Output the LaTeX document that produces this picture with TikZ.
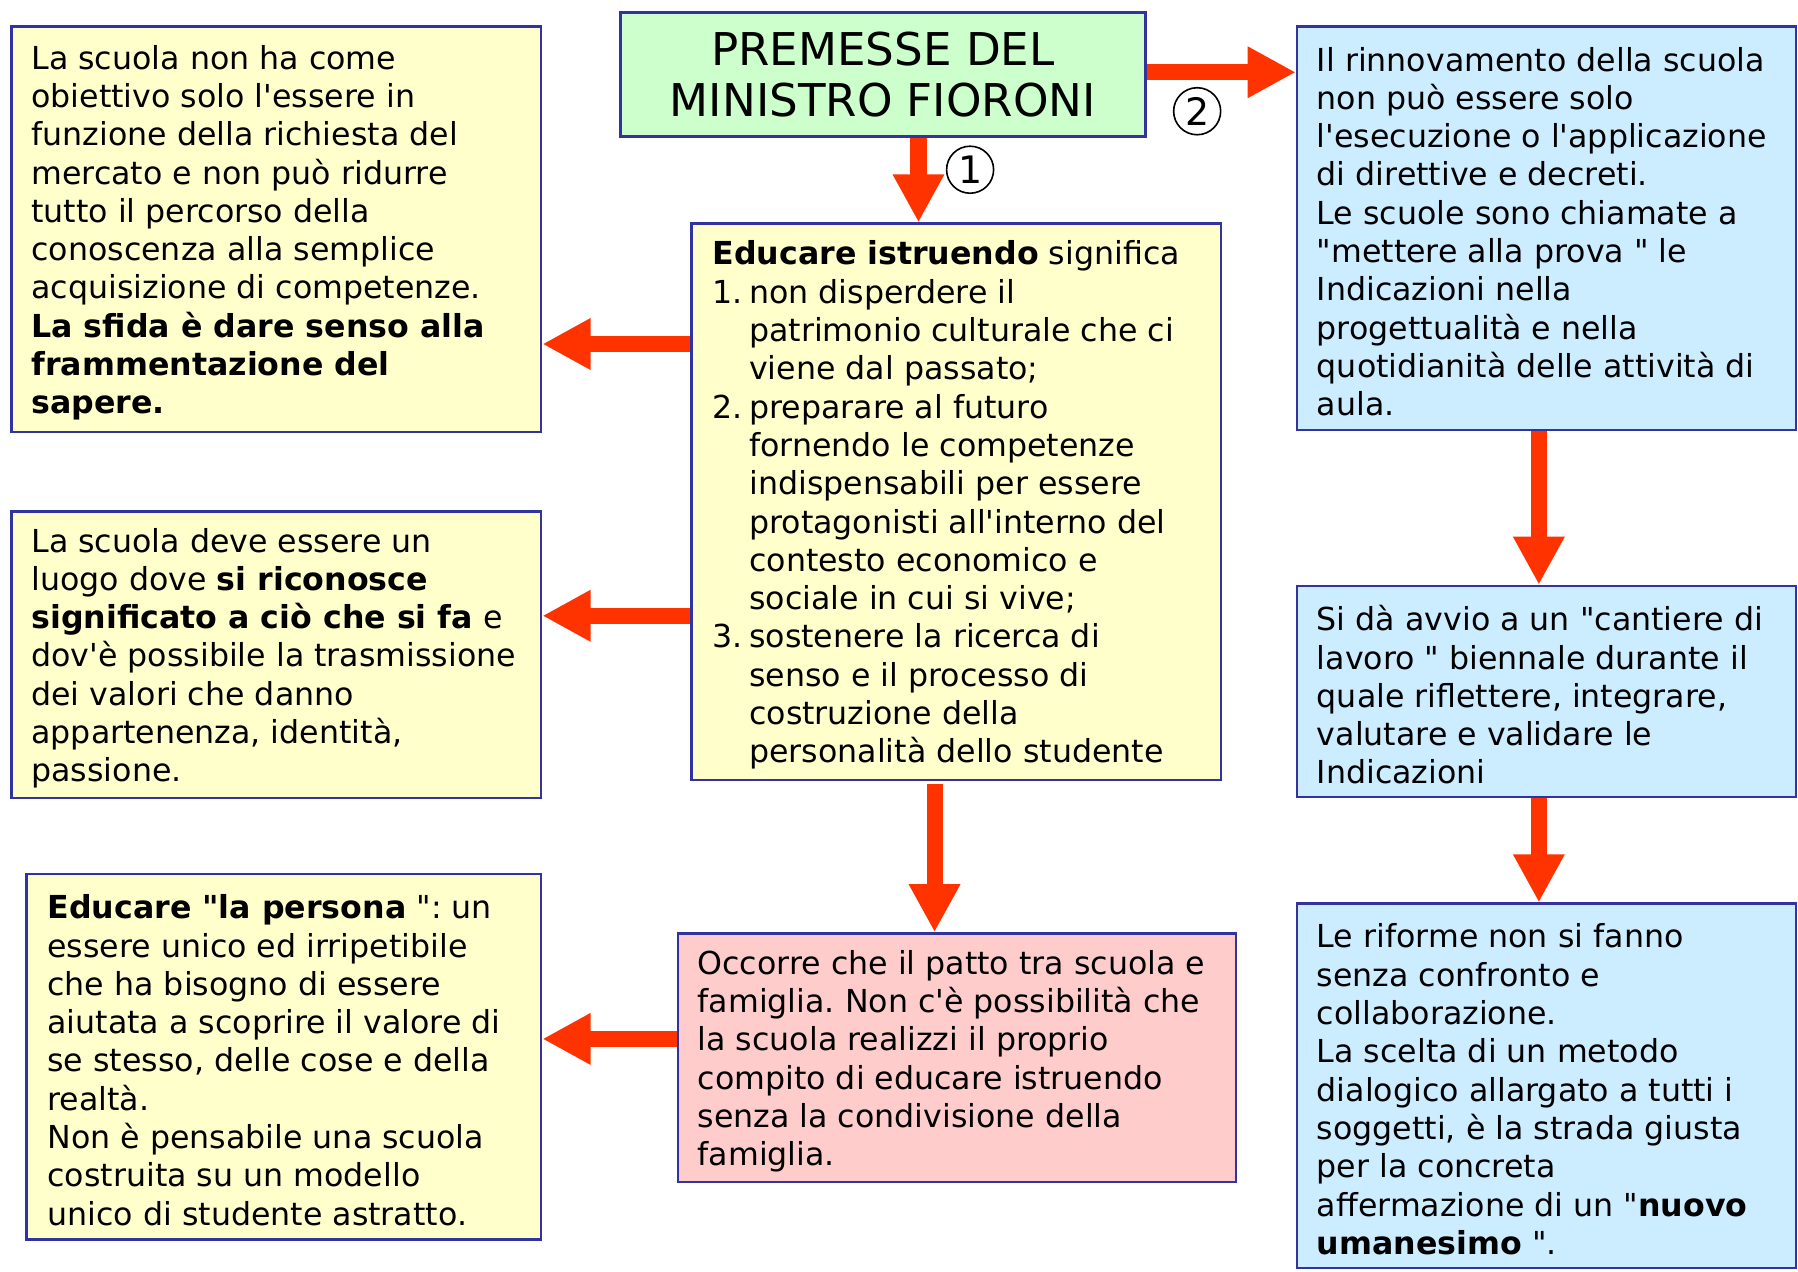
\documentclass[tikz,border=0pt]{standalone}
\usepackage{fontspec}
\setmainfont{DejaVu Sans}[Ligatures=TeXOff]
\usetikzlibrary{arrows.meta}
\definecolor{arrred}{HTML}{FF3300}
\definecolor{bordblue}{HTML}{3333A0}
\definecolor{fyellow}{HTML}{FFFFCC}
\definecolor{fgreen}{HTML}{CCFFCC}
\definecolor{fblue}{HTML}{CCECFF}
\definecolor{fpink}{HTML}{FFCCCC}
\tikzset{
  boxshape/.style={draw=bordblue, line width=1pt, anchor=north west, inner sep=0pt},
  txt/.style={anchor=west, align=left, inner sep=0pt, font=\fontsize{13.8}{16.7}\selectfont\frenchspacing},
  bigarrow/.style={draw=arrred, line width=7pt, -{Triangle[width=21pt,length=21pt]}, arrred},
  numcirc/.style={circle, draw=black, line width=0.7pt, minimum size=20.5pt, inner sep=0pt, font=\fontsize{16.5}{16.5}\selectfont}
}
\newcommand{\ind}{\hspace*{16pt}}
\newcommand{\num}[1]{\makebox[16pt][l]{#1}}
\begin{document}
\begin{tikzpicture}[x=0.5pt,y=-0.5pt]
\useasboundingbox (0,0) rectangle (1568,1109);

% boxes
\node[boxshape, fill=fyellow, minimum width=231pt, minimum height=177pt] (b1) at (9,22) {};
\node[boxshape, fill=fgreen, minimum width=229pt, minimum height=54pt, align=center, anchor=north west,
      font=\fontsize{19.7}{22.5}\selectfont] (title) at (540,10) {PREMESSE DEL\\MINISTRO FIORONI};
\node[boxshape, fill=fyellow, minimum width=231pt, minimum height=242.5pt] (cen) at (602,194) {};
\node[boxshape, fill=fblue, minimum width=217.5pt, minimum height=176pt] (b4) at (1130,22) {};
\node[boxshape, fill=fyellow, minimum width=231pt, minimum height=125pt] (b5) at (9,445) {};
\node[boxshape, fill=fblue, minimum width=217.5pt, minimum height=92pt] (b6) at (1130,510) {};
\node[boxshape, fill=fyellow, minimum width=224.5pt, minimum height=159.5pt] (b7) at (22,761) {};
\node[boxshape, fill=fpink, minimum width=243.5pt, minimum height=108.5pt] (pk) at (590,813) {};
\node[boxshape, fill=fblue, minimum width=217.5pt, minimum height=159pt] (b9) at (1130,787) {};

% texts
\node[txt] (t1) at ([xshift=9pt,yshift=-1.5pt]b1.west) {La scuola non ha come\\
obiettivo solo l'essere in\\
funzione della richiesta del\\
mercato e non può ridurre\\
tutto il percorso della\\
conoscenza alla semplice\\
acquisizione di competenze.\\
\textbf{La sfida è dare senso alla}\\
\textbf{frammentazione del}\\
\textbf{sapere.}};

\node[txt] (tc) at ([xshift=9.5pt,yshift=-1.5pt]cen.west) {\textbf{Educare istruendo} significa\\
\num{1.}non disperdere il\\
\ind patrimonio culturale che ci\\
\ind viene dal passato;\\
\num{2.}preparare al futuro\\
\ind fornendo le competenze\\
\ind indispensabili per essere\\
\ind protagonisti all'interno del\\
\ind contesto economico e\\
\ind sociale in cui si vive;\\
\num{3.}sostenere la ricerca di\\
\ind senso e il processo di\\
\ind costruzione della\\
\ind personalità dello studente};

\node[txt] (t4) at ([xshift=9pt,yshift=-1.5pt]b4.west) {Il rinnovamento della scuola\\
non può essere solo\\
l'esecuzione o l'applicazione\\
di direttive e decreti.\\
Le scuole sono chiamate a\\
"mettere alla prova " le\\
Indicazioni nella\\
progettualità e nella\\
quotidianità delle attività di\\
aula.};

\node[txt] (t5) at ([xshift=9pt,yshift=-1.5pt]b5.west) {La scuola deve essere un\\
luogo dove \textbf{si riconosce}\\
\textbf{significato a ciò che si fa} e\\
dov'è possibile la trasmissione\\
dei valori che danno\\
appartenenza, identità,\\
passione.};

\node[txt] (t6) at ([xshift=9pt,yshift=-1.5pt]b6.west) {Si dà avvio a un "cantiere di\\
lavoro " biennale durante il\\
quale riflettere, integrare,\\
valutare e validare le\\
Indicazioni};

\node[txt] (t7) at ([xshift=9.5pt,yshift=-1.5pt]b7.west) {\textbf{Educare "la persona} ": un\\
essere unico ed irripetibile\\
che ha bisogno di essere\\
aiutata a scoprire il valore di\\
se stesso, delle cose e della\\
realtà.\\
Non è pensabile una scuola\\
costruita su un modello\\
unico di studente astratto.};

\node[txt] (tp) at ([xshift=9pt,yshift=-1.5pt]pk.west) {Occorre che il patto tra scuola e\\
famiglia. Non c'è possibilità che\\
la scuola realizzi il proprio\\
compito di educare istruendo\\
senza la condivisione della\\
famiglia.};

\node[txt] (t9) at ([xshift=9pt,yshift=-1.5pt]b9.west) {Le riforme non si fanno\\
senza confronto e\\
collaborazione.\\
La scelta di un metodo\\
dialogico allargato a tutti i\\
soggetti, è la strada giusta\\
per la concreta\\
affermazione di un "\textbf{nuovo}\\
\textbf{umanesimo} ".};

% circled numbers
\node[numcirc] (n1) at (846,148) {1};
\node[numcirc] (n2) at (1044,97) {2};

% arrows
\coordinate (a0) at ([xshift=15.5pt]title.south);
\draw[bigarrow] (a0) -- (a0 |- cen.north);
\coordinate (a2) at ([yshift=1pt]title.east);
\draw[bigarrow] (a2) -- (a2 -| b4.west);
\coordinate (a3) at ([yshift=68.75pt]cen.west);
\draw[bigarrow] (a3) -- (a3 -| b1.east);
\coordinate (a4) at ([yshift=-49.75pt]cen.west);
\draw[bigarrow] (a4) -- (a4 -| b5.east);
\coordinate (a5) at ([xshift=-9.5pt,yshift=-1.5pt]cen.south);
\draw[bigarrow] (a5) -- (a5 |- pk.north);
\coordinate (a6) at ([yshift=8.25pt]pk.west);
\draw[bigarrow] (a6) -- (a6 -| b7.east);
\coordinate (a7) at ([xshift=-3.25pt]b4.south);
\draw[bigarrow] (a7) -- (a7 |- b6.north);
\coordinate (a8) at ([xshift=-3.25pt]b6.south);
\draw[bigarrow] (a8) -- (a8 |- b9.north);
\end{tikzpicture}
\end{document}
